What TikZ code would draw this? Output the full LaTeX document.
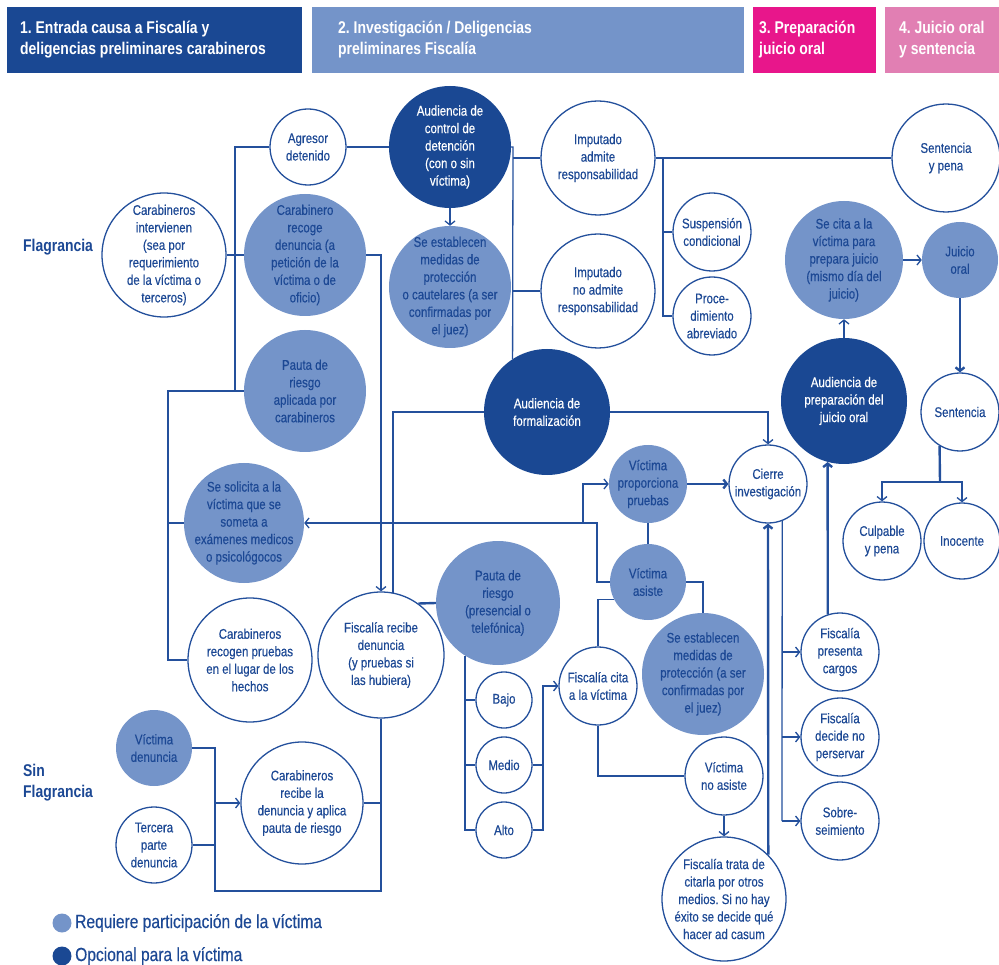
\documentclass[tikz,border=0pt]{standalone}
\usepackage{fontspec}
\setmainfont{Liberation Sans}[FakeStretch=0.82]
\newfontfamily\nodefont{Liberation Sans}[FakeStretch=0.82, FakeBold=0.35]
\usetikzlibrary{arrows.meta}
\frenchspacing
\definecolor{dblue}{HTML}{1A4893}
\definecolor{lblue}{HTML}{7494C9}
\definecolor{tblue}{HTML}{1C4894}
\definecolor{lnblue}{HTML}{24509C}
\definecolor{hmag}{HTML}{E8168B}
\definecolor{hpink}{HTML}{E17FB3}
\newcommand\mkcirc[6]{\node[#1, minimum size=#4pt] (#2) at (#3) {}; \node[#5] (#2t) at (#2.center) {#6};}
\begin{document}
\begin{tikzpicture}[x=1pt,y=-1pt,
  wc/.style={circle, draw=lnblue, line width=1.3pt, fill=white, inner sep=0pt},
  lc/.style={circle, fill=lblue, inner sep=0pt},
  dc/.style={circle, fill=dblue, inner sep=0pt},
  txt/.style={align=center, text=tblue, font=\nodefont\fontsize{14}{17.5}\selectfont, inner sep=0pt},
  wtxt/.style={txt, text=white},
  hbox/.style={anchor=north west, inner sep=0pt, minimum height=66pt},
  htxt/.style={anchor=west, align=left, text=white, font=\bfseries\fontsize{17}{21}\selectfont, inner sep=0pt},
  lab/.style={anchor=west, align=left, text=tblue, font=\bfseries\fontsize{17}{21}\selectfont, inner sep=0pt},
  legt/.style={anchor=west, text=tblue, font=\nodefont\fontsize{19}{22}\selectfont, inner sep=0pt},
  ln/.style={draw=lnblue, line width=1.3pt},
  lnt/.style={draw=lnblue, line width=2.4pt},
  arr/.style={ln, -{Straight Barb[length=4pt,width=10pt]}},
  arrt/.style={lnt, -{Straight Barb[length=3.5pt,width=9pt]}}
]
\useasboundingbox (0,0) rectangle (999,965);

% headers
\node[hbox, fill=dblue, minimum width=295pt] (h1) at (7,7) {};
\node[htxt] (h1t) at (20,40) {1. Entrada causa a Fiscalía y\\deligencias preliminares carabineros};
\node[hbox, fill=lblue, minimum width=432pt] (h2) at (312,7) {};
\node[htxt] (h2t) at (338,40) {2. Investigación / Deligencias\\preliminares Fiscalía};
\node[hbox, fill=hmag, minimum width=123pt] (h3) at (753,7) {};
\node[htxt] (h3t) at (759,40) {3. Preparación\\juicio oral};
\node[hbox, fill=hpink, minimum width=114pt] (h4) at (885,7) {};
\node[htxt] (h4t) at (899,40) {4. Juicio oral\\y sentencia};

% side labels
\node[lab] (flag) at (23,247) {Flagrancia};
\node[lab] (sinf) at (23,783) {Sin\\Flagrancia};

% circles
\mkcirc{wc}{ci}{164,255}{124}{txt}{Carabineros\\intervienen\\(sea por\\requerimiento\\de la víctima o\\terceros)}
\mkcirc{wc}{ag}{308,147}{76}{txt}{Agresor\\detenido}
\mkcirc{lc}{cr}{305,255}{122}{txt}{Carabinero\\recoge\\denuncia (a\\petición de la\\víctima o de\\oficio)}
\mkcirc{lc}{prc}{305,391}{122}{txt}{Pauta de\\riesgo\\aplicada por\\carabineros}
\mkcirc{lc}{ss}{244,523}{120}{txt}{Se solicita a la\\víctima que se\\someta a\\exámenes medicos\\o psicológocos}
\mkcirc{wc}{crp}{250,660}{124}{txt}{Carabineros\\recogen pruebas\\en el lugar de los\\hechos}
\mkcirc{lc}{vd}{154,748}{76}{txt}{Víctima\\denuncia}
\mkcirc{wc}{tp}{154,845}{76}{txt}{Tercera\\parte\\denuncia}
\mkcirc{wc}{crd}{302,803}{122}{txt}{Carabineros\\recibe la\\denuncia y aplica\\pauta de riesgo}
\mkcirc{wc}{fr}{381,655}{126}{txt}{Fiscalía recibe\\denuncia\\(y pruebas si\\las hubiera)}
\mkcirc{dc}{acd}{450,147}{122}{wtxt}{Audiencia de\\control de\\detención\\(con o sin\\víctima)}
\mkcirc{lc}{sem1}{450,287}{122}{txt}{Se establecen\\medidas de\\protección\\o cautelares (a ser\\confirmadas por\\el juez)}
\mkcirc{wc}{ia}{598,158}{114}{txt}{Imputado\\admite\\responsabilidad}
\mkcirc{wc}{ina}{598,291}{114}{txt}{Imputado\\no admite\\responsabilidad}
\mkcirc{wc}{sc}{712,232}{78}{txt}{Suspensión\\condicional}
\mkcirc{wc}{pa}{712,316}{78}{txt}{Proce-\\dimiento\\abreviado}
\mkcirc{wc}{sp}{946,158}{108}{txt}{Sentencia\\y pena}
\mkcirc{lc}{scv}{844,260}{118}{txt}{Se cita a la\\víctima para\\prepara juicio\\(mismo día del\\juicio)}
\mkcirc{lc}{jo}{960,260}{76}{txt}{Juicio\\oral}
\mkcirc{dc}{apj}{844,401}{126}{wtxt}{Audiencia de\\preparación del\\juicio oral}
\mkcirc{wc}{sen}{960,412}{78}{txt}{Sentencia}
\mkcirc{wc}{cp}{882,541}{78}{txt}{Culpable\\y pena}
\mkcirc{wc}{ino}{962,541}{76}{txt}{Inocente}
\mkcirc{dc}{af}{547,412}{126}{wtxt}{Audiencia de\\formalización}
\mkcirc{wc}{cie}{768,484}{78}{txt}{Cierre\\investigación}
\mkcirc{lc}{vp}{648,484}{78}{txt}{Víctima\\proporciona\\pruebas}
\mkcirc{lc}{va}{648,582}{76}{txt}{Víctima\\asiste}
\mkcirc{lc}{sem2}{703,674}{122}{txt}{Se establecen\\medidas de\\protección (a ser\\confirmadas por\\el juez)}
\mkcirc{lc}{pr2}{498,603}{124}{txt}{Pauta de\\riesgo\\(presencial o\\telefónica)}
\mkcirc{wc}{bajo}{504,700}{56}{txt}{Bajo}
\mkcirc{wc}{medio}{504,765}{56}{txt}{Medio}
\mkcirc{wc}{alto}{504,830}{56}{txt}{Alto}
\mkcirc{wc}{fc}{598,686}{78}{txt}{Fiscalía cita\\a la víctima}
\mkcirc{wc}{vna}{724,776}{78}{txt}{Víctima\\no asiste}
\mkcirc{wc}{ft}{724,899}{124}{txt}{Fiscalía trata de\\citarla por otros\\medios. Si no hay\\éxito se decide qué\\hacer ad casum}
\mkcirc{wc}{fp}{840,652}{78}{txt}{Fiscalía\\presenta\\cargos}
\mkcirc{wc}{fd}{840,737}{78}{txt}{Fiscalía\\decide no\\perservar}
\mkcirc{wc}{sob}{840,821}{78}{txt}{Sobre-\\seimiento}

% legend
\node[lc, minimum size=19pt] (lg1) at (62,923) {};
\node[legt] (lg1t) at (75,923) {Requiere participación de la víctima};
\node[dc, minimum size=19pt] (lg2) at (62,956) {};
\node[legt] (lg2t) at (75,956) {Opcional para la víctima};

% junction coordinates
\coordinate (t1a) at (235,147);
\coordinate (t1b) at (235,391);
\coordinate (t2a) at (168,391);
\coordinate (t2b) at (168,523);
\coordinate (t2c) at (168,660);

% left group
\draw[ln] (ag.west) -- (t1a) -- (t1b);
\draw[lnt] (ci.east) -- (cr.west);
\draw[lnt] (t1b) -- (prc.west);
\draw[ln] (t1b) -- (t2a) -- (t2c) -- (crp.west);
\draw[lnt] (t2b) -- (ss.west);

% control de detencion
\draw[ln] (ag.east) -- (acd.west);
\draw[arr] (acd.south) -- (sem1.north);
\coordinate (k1) at (513,147);
\draw[ln] (acd.east) -- (k1) -- (af.123);
\draw[lnt] (513,158) -- (ia.west);
\draw[lnt] (513,291) -- (ina.west);
\coordinate (k2) at (663,158);
\draw[ln] (ia.east) -- (sp.west);
\draw[ln] (k2) |- (pa.west);
\draw[lnt] (663,232) -- (sc.west);

% juicio
\draw[arr] (apj.north) -- (scv.south);
\draw[arr] (scv.east) -- (jo.west);
\draw[arrt] (jo.south) -- (sen.north);
\coordinate (k3) at (940,482);
\draw[lnt] (sen.-121) -- (k3);
\draw[arr] (k3) -| (cp.north);
\draw[arr] (k3) -| (ino.north);
\draw[arrt] (fp.108) -- (apj.-105);

% formalizacion / cierre
\draw[arr] (af.east) -| (cie.north);
\draw[arrt] (vp.east) -- (cie.west);
\draw[ln] (vp.south) -- (va.north);
\coordinate (k4) at (597,582);
\coordinate (k5) at (597,523);
\coordinate (k6) at (583,523);
\draw[arr] (va.west) -- (k4) -- (k5) -- (ss.east);
\draw[arr] (k6) |- (vp.west);
\draw[ln] (va.east) -| (sem2.north);
\draw[ln] (fc.north) |- (va.207);
\draw[ln] (fc.south) |- (vna.west);
\draw[arr] (vna.south) -- (ft.north);
\draw[arrt] (ft.45) -- (cie.south);
\coordinate (k7) at (782,821);
\draw[ln] (cie.-69) -- (k7);
\draw[arr] (782,652) -- (fp.west);
\draw[arr] (782,737) -- (fd.west);
\draw[arr] (k7) -- (sob.west);

% pauta de riesgo fiscalia
\draw[lnt] (fr.54) -- (pr2.west);
\draw[ln] (pr2.238) |- (alto.west);
\draw[lnt] (465,700) -- (bajo.west);
\draw[lnt] (465,765) -- (medio.west);
\coordinate (k8) at (543,830);
\coordinate (k9) at (543,686);
\draw[arr] (alto.east) -- (k8) -- (k9) -- (fc.west);
\draw[lnt] (medio.east) -- (543,765);

% fiscalia recibe
\draw[ln] (fr.79) |- (af.west);
\draw[arr] (cr.east) -| (fr.north);
\coordinate (s1) at (381,891);
\coordinate (s2) at (215,891);
\coordinate (s3) at (215,748);
\draw[ln] (fr.south) -- (s1) -- (s2) -- (s3) -- (vd.east);
\draw[ln] (tp.east) -- (215,845);
\draw[arr] (215,803) -- (crd.west);
\draw[lnt] (crd.east) -- (381,803);
\end{tikzpicture}
\end{document}
